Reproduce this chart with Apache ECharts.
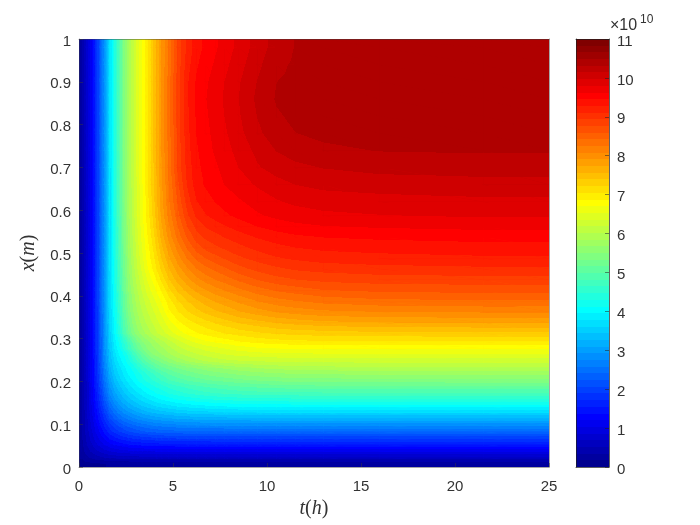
<!DOCTYPE html>
<html>
<head>
<meta charset="utf-8">
<style>html,body{margin:0;padding:0;background:#fff}#c{width:700px;height:525px}</style>
<script src="https://cdn.jsdelivr.net/npm/echarts@6/dist/echarts.min.js"></script>
</head>
<body>
<div id="c"></div>
<script>
// sample positions along t, hours
var tSamples = [.125,.375,.625,.875,1.125,1.375,1.625,1.875,2.125,2.375,2.625,2.875,3.125,3.375,3.625,3.875,4.125,4.375,4.75,5.25,5.75,6.25,6.75,7.25,7.75,8.5,9.5,10.5,11.5,13,16,21.5];
// sample positions along x, metres
var xSamples = [.0075,.0225,.0375,.0525,.0675,.0825,.0975,.1125,.1275,.1425,.1575,.1725,.1875,.2025,.2175,.2325,.2475,.2625,.2775,.2925,.3125,.3375,.3625,.3875,.4125,.4375,.4625,.4875,.5125,.5375,.5625,.5875,.62,.66,.7,.74,.78,.82,.86,.9,.94,.98];
var colorbarTop = 11;
// values in units of 1e10, one row per x sample, bottom row first
var values = [
[.1,.12,.14,.15,.16,.17,.18,.18,.19,.19,.19,.2,.2,.2,.2,.2,.2,.2,.2,.2,.2,.2,.2,.2,.2,.2,.2,.2,.2,.2,.2,.2],
[.2,.3,.38,.44,.49,.53,.56,.58,.6,.61,.62,.63,.63,.64,.64,.64,.65,.65,.65,.65,.65,.65,.65,.65,.65,.65,.65,.65,.65,.65,.65,.65],
[.25,.41,.54,.65,.74,.82,.88,.92,.96,.99,1.01,1.03,1.04,1.05,1.06,1.06,1.07,1.07,1.07,1.08,1.08,1.08,1.08,1.08,1.08,1.08,1.08,1.08,1.08,1.08,1.08,1.08],
[.28,.48,.65,.8,.94,1.05,1.15,1.22,1.28,1.33,1.37,1.4,1.42,1.44,1.46,1.47,1.48,1.49,1.5,1.51,1.51,1.52,1.52,1.52,1.52,1.52,1.52,1.52,1.52,1.52,1.52,1.52],
[.3,.53,.73,.93,1.1,1.26,1.4,1.5,1.58,1.65,1.7,1.75,1.78,1.81,1.83,1.85,1.87,1.88,1.9,1.92,1.93,1.94,1.94,1.95,1.95,1.95,1.95,1.95,1.95,1.95,1.95,1.95],
[.31,.56,.8,1.03,1.25,1.45,1.63,1.77,1.88,1.97,2.05,2.1,2.16,2.2,2.24,2.27,2.29,2.31,2.33,2.35,2.36,2.37,2.37,2.38,2.38,2.38,2.38,2.38,2.38,2.38,2.38,2.38],
[.31,.58,.85,1.11,1.36,1.6,1.81,1.97,2.1,2.21,2.3,2.38,2.44,2.5,2.54,2.58,2.61,2.64,2.68,2.71,2.73,2.75,2.76,2.77,2.78,2.79,2.8,2.8,2.8,2.8,2.8,2.8],
[.31,.6,.9,1.2,1.49,1.77,2.03,2.23,2.39,2.52,2.62,2.71,2.78,2.85,2.9,2.95,2.99,3.02,3.06,3.1,3.12,3.14,3.16,3.17,3.18,3.19,3.2,3.2,3.2,3.2,3.2,3.2],
[.32,.61,.94,1.27,1.6,1.93,2.23,2.46,2.64,2.78,2.9,3.0,3.08,3.16,3.22,3.27,3.32,3.36,3.41,3.46,3.5,3.53,3.55,3.57,3.58,3.6,3.61,3.62,3.62,3.62,3.62,3.62],
[.32,.62,.97,1.33,1.7,2.08,2.42,2.67,2.87,3.02,3.15,3.26,3.35,3.44,3.51,3.57,3.63,3.68,3.74,3.81,3.86,3.9,3.93,3.96,3.98,4.0,4.02,4.03,4.04,4.05,4.05,4.05],
[.32,.63,1.0,1.38,1.8,2.22,2.6,2.87,3.07,3.23,3.37,3.48,3.58,3.67,3.75,3.82,3.89,3.95,4.03,4.12,4.18,4.23,4.27,4.3,4.33,4.36,4.38,4.4,4.41,4.42,4.42,4.42],
[.32,.64,1.02,1.44,1.88,2.34,2.75,3.03,3.23,3.4,3.54,3.66,3.77,3.87,3.96,4.04,4.13,4.2,4.3,4.4,4.48,4.54,4.6,4.64,4.67,4.71,4.74,4.76,4.77,4.78,4.78,4.78],
[.32,.64,1.04,1.48,1.96,2.45,2.88,3.18,3.38,3.55,3.7,3.82,3.93,4.05,4.15,4.23,4.31,4.39,4.5,4.6,4.69,4.76,4.82,4.87,4.91,4.97,5.02,5.06,5.08,5.1,5.11,5.12],
[.32,.65,1.06,1.52,2.03,2.55,3.0,3.3,3.52,3.7,3.85,3.97,4.12,4.25,4.35,4.45,4.55,4.65,4.78,4.9,4.99,5.07,5.13,5.18,5.22,5.28,5.34,5.38,5.4,5.42,5.43,5.44],
[.32,.65,1.07,1.55,2.08,2.63,3.1,3.42,3.63,3.8,3.97,4.09,4.2,4.35,4.48,4.6,4.72,4.83,4.98,5.12,5.22,5.3,5.37,5.42,5.47,5.54,5.6,5.64,5.67,5.69,5.71,5.72],
[.32,.65,1.08,1.57,2.12,2.7,3.2,3.52,3.72,3.9,4.06,4.2,4.4,4.58,4.73,4.87,5.0,5.12,5.22,5.35,5.45,5.53,5.6,5.67,5.72,5.8,5.87,5.92,5.95,5.97,5.99,6.0],
[.32,.65,1.08,1.58,2.15,2.76,3.28,3.62,3.85,4.03,4.22,4.45,4.67,4.87,5.03,5.17,5.3,5.41,5.56,5.72,5.85,5.95,6.03,6.09,6.13,6.17,6.2,6.22,6.23,6.24,6.25,6.25],
[.32,.65,1.09,1.59,2.17,2.8,3.34,3.7,3.95,4.1,4.35,4.62,4.87,5.1,5.3,5.48,5.57,5.66,5.79,5.95,6.07,6.16,6.24,6.3,6.35,6.41,6.45,6.47,6.48,6.49,6.5,6.5],
[.32,.65,1.09,1.6,2.19,2.85,3.4,3.78,4.08,4.35,4.65,4.9,5.15,5.33,5.5,5.61,5.71,5.8,5.95,6.12,6.25,6.35,6.43,6.49,6.54,6.62,6.68,6.71,6.73,6.74,6.75,6.75],
[.32,.65,1.09,1.6,2.2,2.88,3.45,3.85,4.14,4.45,4.75,5.05,5.3,5.47,5.6,5.73,5.84,5.95,6.1,6.3,6.45,6.58,6.67,6.73,6.78,6.86,6.93,6.97,7.0,7.01,7.02,7.02],
[.32,.65,1.09,1.61,2.22,2.9,3.52,3.95,4.35,4.8,5.12,5.42,5.62,5.78,5.9,6.03,6.16,6.27,6.42,6.6,6.75,6.86,6.94,7.0,7.05,7.12,7.19,7.24,7.28,7.31,7.34,7.35],
[.32,.65,1.09,1.61,2.23,2.91,3.55,4.0,4.45,4.9,5.25,5.55,5.76,5.92,6.06,6.18,6.3,6.42,6.62,6.83,6.97,7.07,7.16,7.24,7.31,7.41,7.5,7.58,7.63,7.69,7.73,7.75],
[.32,.65,1.1,1.62,2.24,2.92,3.58,4.05,4.52,5.0,5.37,5.65,5.86,6.02,6.17,6.3,6.43,6.57,6.82,7.03,7.2,7.33,7.44,7.53,7.6,7.72,7.83,7.92,7.98,8.04,8.08,8.1],
[.32,.65,1.1,1.62,2.25,2.93,3.6,4.1,4.58,5.05,5.45,5.72,5.95,6.12,6.28,6.42,6.56,6.72,6.95,7.2,7.38,7.53,7.65,7.75,7.83,7.95,8.08,8.18,8.24,8.31,8.37,8.4],
[.32,.65,1.1,1.62,2.25,2.93,3.6,4.15,4.63,5.1,5.5,5.8,6.02,6.22,6.42,6.57,6.72,6.88,7.15,7.42,7.62,7.78,7.9,8.0,8.08,8.2,8.34,8.44,8.5,8.58,8.63,8.65],
[.32,.65,1.1,1.62,2.25,2.93,3.6,4.18,4.68,5.15,5.57,5.87,6.12,6.32,6.53,6.7,6.88,7.08,7.36,7.64,7.85,8.02,8.15,8.25,8.33,8.46,8.6,8.7,8.76,8.81,8.85,8.87],
[.32,.65,1.1,1.62,2.25,2.94,3.62,4.2,4.72,5.2,5.62,5.93,6.2,6.43,6.66,6.85,7.05,7.25,7.53,7.82,8.05,8.24,8.37,8.47,8.56,8.7,8.82,8.9,8.96,9.0,9.04,9.07],
[.32,.65,1.1,1.62,2.25,2.94,3.62,4.22,4.75,5.24,5.66,5.98,6.26,6.5,6.75,6.93,7.15,7.38,7.68,8.0,8.26,8.46,8.6,8.7,8.78,8.9,9.0,9.09,9.14,9.19,9.22,9.25],
[.32,.65,1.1,1.62,2.25,2.94,3.62,4.24,4.78,5.27,5.7,6.02,6.31,6.56,6.8,7.0,7.25,7.5,7.82,8.15,8.45,8.68,8.82,8.9,8.97,9.06,9.16,9.23,9.28,9.32,9.35,9.38],
[.32,.65,1.1,1.62,2.25,2.95,3.65,4.25,4.8,5.29,5.73,6.05,6.35,6.6,6.85,7.07,7.34,7.62,7.95,8.32,8.62,8.86,8.98,9.05,9.12,9.2,9.3,9.37,9.42,9.46,9.49,9.52],
[.32,.65,1.1,1.62,2.25,2.95,3.65,4.26,4.81,5.31,5.75,6.08,6.38,6.64,6.9,7.13,7.41,7.7,8.03,8.42,8.76,9.0,9.13,9.2,9.27,9.36,9.46,9.53,9.58,9.62,9.65,9.68],
[.32,.65,1.1,1.62,2.25,2.95,3.65,4.27,4.82,5.32,5.77,6.1,6.4,6.67,6.94,7.18,7.47,7.77,8.12,8.53,8.9,9.15,9.27,9.35,9.42,9.5,9.6,9.67,9.72,9.76,9.79,9.82],
[.32,.65,1.1,1.62,2.25,2.95,3.65,4.28,4.83,5.33,5.78,6.12,6.42,6.69,6.97,7.23,7.52,7.82,8.2,8.62,9.02,9.27,9.38,9.46,9.52,9.6,9.7,9.78,9.83,9.87,9.9,9.93],
[.32,.65,1.1,1.62,2.25,2.95,3.65,4.29,4.84,5.34,5.79,6.13,6.43,6.7,6.98,7.26,7.55,7.85,8.23,8.72,9.12,9.38,9.48,9.56,9.63,9.72,9.82,9.9,9.97,10.02,10.05,10.07],
[.32,.65,1.1,1.62,2.25,2.95,3.65,4.3,4.85,5.35,5.8,6.15,6.45,6.72,7.0,7.28,7.58,7.88,8.28,8.8,9.17,9.4,9.52,9.6,9.68,9.8,9.95,10.05,10.1,10.15,10.2,10.23],
[.32,.65,1.1,1.62,2.25,2.95,3.65,4.3,4.85,5.35,5.8,6.15,6.45,6.72,7.0,7.3,7.6,7.9,8.29,8.82,9.2,9.43,9.56,9.65,9.73,9.86,10.02,10.15,10.22,10.28,10.32,10.33],
[.32,.65,1.1,1.62,2.25,2.95,3.65,4.3,4.85,5.35,5.8,6.15,6.45,6.72,7.0,7.3,7.6,7.9,8.3,8.83,9.22,9.46,9.58,9.68,9.77,9.92,10.1,10.25,10.31,10.35,10.38,10.39],
[.32,.65,1.1,1.62,2.25,2.95,3.65,4.3,4.85,5.35,5.8,6.15,6.45,6.72,7.0,7.3,7.6,7.9,8.3,8.85,9.24,9.48,9.6,9.7,9.8,9.95,10.15,10.29,10.35,10.39,10.41,10.42],
[.32,.65,1.1,1.62,2.25,2.95,3.65,4.3,4.85,5.35,5.8,6.15,6.45,6.72,7.0,7.3,7.6,7.9,8.3,8.85,9.25,9.5,9.62,9.72,9.82,9.97,10.18,10.33,10.37,10.4,10.42,10.43],
[.32,.65,1.1,1.62,2.25,2.95,3.65,4.3,4.85,5.35,5.8,6.15,6.45,6.72,7.0,7.3,7.6,7.9,8.3,8.85,9.25,9.48,9.6,9.7,9.8,9.95,10.15,10.31,10.36,10.4,10.42,10.43],
[.32,.65,1.1,1.62,2.25,2.95,3.65,4.3,4.85,5.35,5.8,6.15,6.45,6.72,7.0,7.3,7.6,7.9,8.28,8.82,9.2,9.43,9.55,9.65,9.75,9.9,10.1,10.27,10.34,10.38,10.41,10.42],
[.32,.65,1.1,1.62,2.25,2.95,3.65,4.3,4.85,5.35,5.8,6.15,6.45,6.72,7.0,7.3,7.6,7.9,8.28,8.8,9.15,9.38,9.5,9.6,9.7,9.85,10.05,10.22,10.32,10.36,10.39,10.4]
];

var LEVELS=64, STEP=colorbarTop/LEVELS;
function jet(i){ // MATLAB jet(64), i = 0..63
  var g=(i+1)/LEVELS;
  function ch(v){return Math.round(255*Math.max(0,Math.min(1,v)));}
  return 'rgb('+ch(Math.min(4*g-1.5,-4*g+4.5))+','+ch(Math.min(4*g-.5,-4*g+3.5))+','+ch(Math.min(4*g+.5,-4*g+2.5))+')';
}
function levelOf(v){return Math.max(0,Math.min(LEVELS-1,Math.floor(v/STEP)));}

var tMin=0, tMax=25, xMin=0, xMax=1;
var tNodes=[tMin].concat(tSamples,[tMax]), xNodes=[xMin].concat(xSamples,[xMax]);
function at(j,i){ // value at node; the outer edge of the plot takes the nearest sample
  var r=values[Math.max(0,Math.min(values.length-1,j-1))];
  return r[Math.max(0,Math.min(r.length-1,i-1))];
}
var quads=[], barData=[], i, j;
for(j=0;j<xNodes.length-1;j++) for(i=0;i<tNodes.length-1;i++)
  quads.push([tNodes[i],tNodes[i+1],xNodes[j],xNodes[j+1],at(j,i),at(j,i+1),at(j+1,i),at(j+1,i+1)]);
for(i=0;i<LEVELS;i++) barData.push([i*STEP,(i+1)*STEP]);

// one triangle of a quad, shaded in the 64 colour bands across its three corner values
function tri(p,q,r,vp,vq,vr){
  var vmin=Math.min(vp,vq,vr), vmax=Math.max(vp,vq,vr), fill;
  if(levelOf(vmin)===levelOf(vmax)) fill=jet(levelOf(vmin));
  else{
    var det=(q[0]-p[0])*(r[1]-p[1])-(r[0]-p[0])*(q[1]-p[1]);
    var a=((vq-vp)*(r[1]-p[1])-(vr-vp)*(q[1]-p[1]))/det;
    var b=((q[0]-p[0])*(vr-vp)-(r[0]-p[0])*(vq-vp))/det;
    var s=vmin===vp?p:(vmin===vq?q:r), n=a*a+b*b, d=vmax-vmin;
    var stops=[], l0=levelOf(vmin), l1=levelOf(vmax);
    for(var l=l0;l<=l1;l++){
      var o0=l===l0?0:(l*STEP-vmin)/d, o1=l===l1?1:((l+1)*STEP-vmin)/d;
      stops.push({offset:o0,color:jet(l)},{offset:o1,color:jet(l)});
    }
    fill=new echarts.graphic.LinearGradient(s[0],s[1],s[0]+a/n*d,s[1]+b/n*d,stops,true);
  }
  return {type:'polygon',shape:{points:[p,q,r]},style:{fill:fill}};
}
function quadItem(params,api){
  var t0=api.value(0),t1=api.value(1),x0=api.value(2),x1=api.value(3);
  var A=api.coord([t0,x0]),B=api.coord([t1,x0]),C=api.coord([t0,x1]),D=api.coord([t1,x1]);
  return {type:'group',children:[
    tri(A,B,C,api.value(4),api.value(5),api.value(6)),
    tri(B,D,C,api.value(5),api.value(7),api.value(6))
  ]};
}
// solid backing under the triangles so their antialiased joins do not show the page
function backItem(params,api){
  var a=api.coord([api.value(0),api.value(2)]), b=api.coord([api.value(1),api.value(3)]);
  var x0=Math.floor(a[0])-1,x1=Math.ceil(b[0])+1,y0=Math.floor(b[1])-1,y1=Math.ceil(a[1])+1;
  var mean=(api.value(4)+api.value(5)+api.value(6)+api.value(7))/4;
  return {type:'rect',shape:{x:x0,y:y0,width:x1-x0,height:y1-y0},style:{fill:jet(levelOf(mean))}};
}
function barItem(params,api){
  var a=api.coord([0,api.value(0)]), b=api.coord([1,api.value(1)]);
  var y0=Math.round(b[1]), y1=Math.round(a[1]);
  return {type:'rect',shape:{x:a[0],y:y0,width:b[0]-a[0],height:y1-y0},style:{fill:jet(levelOf((api.value(0)+api.value(1))/2))}};
}
var FONT='"Liberation Sans",Arial,sans-serif', INK='#333333', EDGE='rgba(60,60,60,.45)', DARK='rgba(30,30,30,.7)';
var edgeAxis=function(o){return Object.assign({type:'value',z:5,axisLabel:{show:false},axisTick:{show:false},splitLine:{show:false},axisLine:{show:true,onZero:false,lineStyle:{color:EDGE,width:1}}},o);};
var nameRich={i:{fontFamily:'"Liberation Serif",serif',fontStyle:'italic',fontSize:20,color:INK},r:{fontFamily:'"Liberation Serif",serif',fontSize:20,color:INK}};
var numFmt=function(v){return '{a|'+(+(+v).toFixed(1))+'}';};
var sideLabel=function(m){return {show:true,margin:m,formatter:numFmt,rich:{a:{color:INK,fontFamily:FONT,fontSize:15,padding:[5,0,0,0]}}};};

var chart=echarts.init(document.getElementById('c'),null,{renderer:'canvas'});
chart.setOption({
  animation:false,
  backgroundColor:'#fff',
  grid:[{left:79,top:39,width:470,height:428},{left:576,top:39,width:33,height:428}],
  xAxis:[
    edgeAxis({gridIndex:0,min:tMin,max:tMax,interval:5,position:'bottom',
      axisLabel:{show:true,margin:12,color:INK,fontFamily:FONT,fontSize:15},
      axisTick:{show:true,inside:true,length:4,lineStyle:{color:EDGE}},
      name:'{i|t}{r|(}{i|h}{r|)}',nameLocation:'middle',nameGap:30,nameTextStyle:{rich:nameRich}}),
    edgeAxis({gridIndex:0,min:tMin,max:tMax,position:'top'}),
    edgeAxis({gridIndex:1,min:0,max:1,position:'bottom',axisLine:{show:true,onZero:false,lineStyle:{color:DARK}}}),
    edgeAxis({gridIndex:1,min:0,max:1,position:'top',axisLine:{show:true,onZero:false,lineStyle:{color:DARK}}})
  ],
  yAxis:[
    edgeAxis({gridIndex:0,min:xMin,max:xMax,interval:.1,position:'left',
      axisLabel:sideLabel(8),
      axisTick:{show:true,inside:true,length:4,lineStyle:{color:EDGE}},
      name:'{i|x}{r|(}{i|m}{r|)}',nameLocation:'middle',nameGap:32,nameTextStyle:{rich:nameRich}}),
    edgeAxis({gridIndex:0,min:xMin,max:xMax,position:'right'}),
    edgeAxis({gridIndex:1,min:0,max:colorbarTop,interval:1,position:'right',
      axisLabel:sideLabel(8),
      axisTick:{show:true,inside:true,length:4,lineStyle:{color:'rgba(30,30,30,.5)'}},
      axisLine:{show:true,onZero:false,lineStyle:{color:DARK}}}),
    edgeAxis({gridIndex:1,min:0,max:colorbarTop,position:'left',axisLine:{show:true,onZero:false,lineStyle:{color:DARK}}})
  ],
  series:[
    {type:'custom',xAxisIndex:0,yAxisIndex:0,data:quads,renderItem:backItem,encode:{x:[0,1],y:[2,3]},clip:true,z:1,progressive:0},
    {type:'custom',xAxisIndex:0,yAxisIndex:0,data:quads,renderItem:quadItem,encode:{x:[0,1],y:[2,3]},clip:true,z:2,progressive:0},
    {type:'custom',xAxisIndex:2,yAxisIndex:2,data:barData,renderItem:barItem,encode:{y:[0,1]},z:2}
  ],
  graphic:[
    {type:'text',left:610,top:18,style:{text:'\u00d710',fill:INK,font:'16px "Liberation Sans",Arial,sans-serif'}},
    {type:'text',left:640,top:14,style:{text:'10',fill:INK,font:'12px "Liberation Sans",Arial,sans-serif'}}
  ]
});
</script>
</body>
</html>
